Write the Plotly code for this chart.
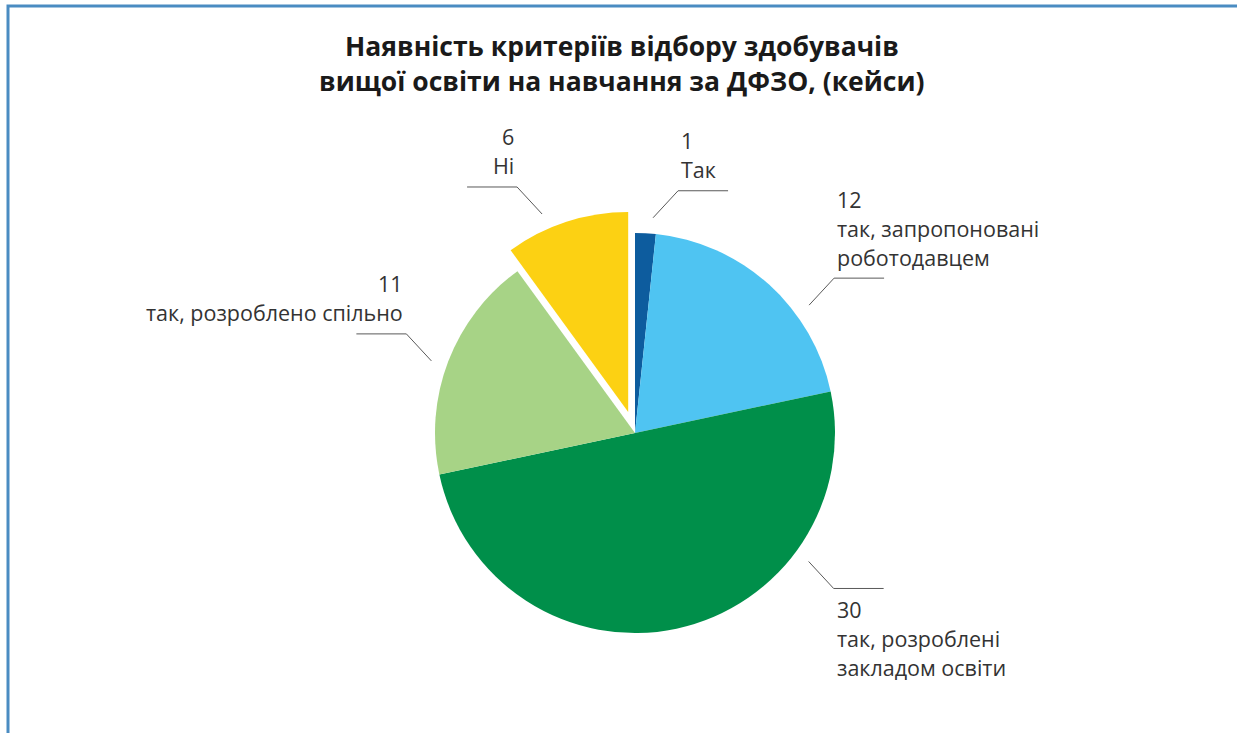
import math
import plotly.graph_objects as go

# ---- data ----
categories = ["Так", "так, запропоновані роботодавцем", "так, розроблені закладом освіти",
              "так, розроблено спільно", "Ні"]
values = [1, 12, 30, 11, 6]
label_lines = [["Так"], ["так, запропоновані", "роботодавцем"], ["так, розроблені", "закладом освіти"],
               ["так, розроблено спільно"], ["Ні"]]
colors = ["#0d5c9e", "#4fc4f2", "#008f4a", "#a7d386", "#fcd113"]
pulls = [0, 0, 0, 0, 0.11]
title_lines = ["Наявність критеріїв відбору здобувачів", "вищої освіти на навчання за ДФЗО, (кейси)"]

# ---- layout geometry (pixels) ----
W, H = 1237, 733
CX, CY, R = 635, 433, 200
leader_angles = [4.8, 53.7, 126.5, 289.5, 336.5]  # degrees clockwise from 12 o'clock
maxpull = max(pulls)
half = R * (1 + maxpull)

def px(x):
    return x / W

def py(y):
    return 1 - y / H

fig = go.Figure(go.Pie(
    labels=categories, values=values, sort=False, direction="clockwise", rotation=0,
    marker=dict(colors=colors, line=dict(width=0)), pull=pulls,
    textinfo="none", hoverinfo="label+value", showlegend=False,
    domain=dict(x=[px(CX - half), px(CX + half)], y=[py(CY + half), py(CY - half)]),
))

total = sum(values)
shapes = []
annotations = []
cum = 0
FS = 21.5
for i, v in enumerate(values):
    mid = (cum + v / 2) / total * 2 * math.pi
    cum += v
    ox = CX + pulls[i] * R * math.sin(mid)
    oy = CY - pulls[i] * R * math.cos(mid)
    a = math.radians(leader_angles[i])
    sx0 = ox + 1.08 * R * math.sin(a)
    sy0 = oy - 1.08 * R * math.cos(a)
    sgx = 1 if math.sin(a) >= 0 else -1
    sgy = -1 if math.cos(a) >= 0 else 1
    ex, ey = sx0 + 25 * sgx, sy0 + 27 * sgy
    hx = ex + 50 * sgx
    shapes.append(dict(type="path", xref="paper", yref="paper",
                       path=f"M {px(sx0)},{py(sy0)} L {px(ex)},{py(ey)} L {px(hx)},{py(ey)}",
                       line=dict(color="#595959", width=1)))
    lines = [str(v)] + label_lines[i]
    n = len(lines)
    for j, t in enumerate(lines):
        if sgy < 0:
            yc = ey - 21 - (n - 1 - j) * 29
        else:
            yc = ey + 21 + j * 29
        annotations.append(dict(
            text=t, x=px(ex + 1 * sgx), y=py(yc), xref="paper", yref="paper",
            xanchor="left" if sgx > 0 else "right", yanchor="middle", showarrow=False,
            font=dict(family="Open Sans", size=FS, color="#333333")))

for k, t in enumerate(title_lines):
    annotations.append(dict(text=f"<b>{t}</b>", x=px(622), y=py(46 + k * 35), xref="paper", yref="paper",
                            xanchor="center", yanchor="middle", showarrow=False,
                            font=dict(family="Open Sans", size=26.5, color="#1a1a1a")))

# frame
shapes.append(dict(type="path", xref="paper", yref="paper",
                   path=f"M {px(8)},{py(740)} L {px(8)},{py(6)} L {px(1245)},{py(6)}",
                   line=dict(color="#4a8cc2", width=3)))

fig.update_layout(width=W, height=H, margin=dict(l=0, r=0, t=0, b=0),
                  paper_bgcolor="white", plot_bgcolor="white",
                  shapes=shapes, annotations=annotations)
fig.write_html("out.html", config={"displayModeBar": False},
               post_script="document.body.style.margin='0';document.body.style.overflow='hidden';")
